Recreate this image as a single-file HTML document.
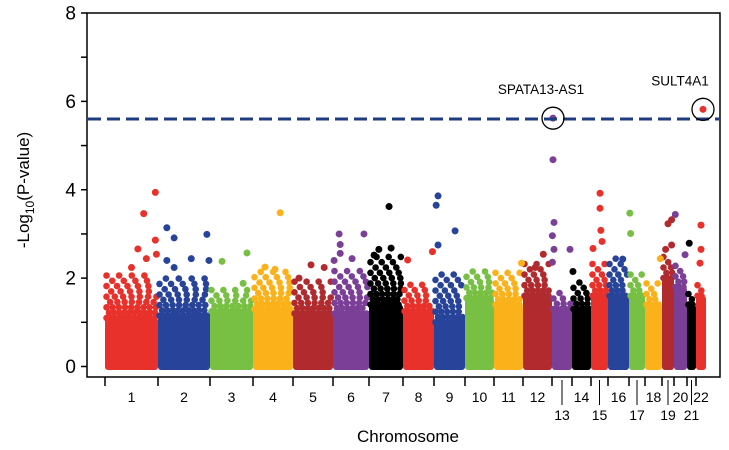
<!DOCTYPE html>
<html><head><meta charset="utf-8"><style>
body{margin:0;background:#fff;width:729px;height:450px;overflow:hidden}
svg{display:block;font-family:"Liberation Sans","DejaVu Sans",sans-serif}
</style></head><body>
<svg id="chart" width="729" height="450" viewBox="0 0 729 450" xmlns="http://www.w3.org/2000/svg"></svg>
<script>
// ---- data ----
const chromosomes = ["1","2","3","4","5","6","7","8","9","10","11","12","13","14","15","16","17","18","19","20","21","22"];
const chrSpans = [53,52,43,40,40,36,34,31,31,29,29,29,20,19,17,21,16,17,12,13,9,10];
const solidHeights = [1.1,1.15,1.25,1.3,1.2,1.2,1.4,1.25,1.0,1.55,1.4,1.6,1.3,1.3,1.6,1.6,1.6,1.4,2.0,1.8,1.4,1.6];
const fuzzyHeights = [2.1,2.0,1.8,2.2,2.0,2.2,2.6,1.95,2.2,2.2,2.2,2.4,1.7,2.0,2.4,2.5,2.2,2.0,2.6,2.4,1.8,1.9];
// notable points: [chromosome index, fraction along chromosome, -log10 p]
const topPoints = [
 [0,0.95,3.94],[0,0.73,3.46],[0,0.95,2.86],[0,0.62,2.66],[0,0.97,2.54],[0,0.78,2.44],[0,0.5,2.24],
 [1,0.17,3.14],[1,0.31,2.91],[1,0.94,2.99],[1,0.17,2.4],[1,0.64,2.44],[1,0.98,2.4],[1,0.31,2.24],
 [2,0.28,2.38],[2,0.86,2.57],[2,0.77,1.88],
 [3,0.68,3.48],[3,0.3,2.25],[3,0.55,2.2],
 [4,0.45,2.3],[4,0.78,2.24],[4,0.15,2.0],
 [5,0.17,3.0],[5,0.86,3.0],[5,0.2,2.76],[5,0.2,2.56],[5,0.03,2.4],[5,0.53,2.44],
 [6,0.59,3.62],[6,0.29,2.65],[6,0.65,2.68],[6,0.15,2.52],
 [7,0.15,2.41],[7,0.95,2.6],
 [8,0.13,3.86],[8,0.07,3.65],[8,0.68,3.07],[8,0.13,2.75],
 [10,0.95,2.34],
 [11,0.7,2.54],[11,0.42,2.24],
 [12,0.05,4.68],[12,0.1,3.26],[12,0.02,2.96],[12,0.1,2.65],[12,0.9,2.65],[12,0.02,2.36],[12,0.05,5.62],
 [13,0.05,2.15],
 [14,0.53,3.92],[14,0.53,3.58],[14,0.58,3.08],[14,0.65,2.83],[14,0.12,2.67],
 [15,0.7,2.43],
 [16,0.05,3.47],[16,0.1,3.01],
 [17,0.9,2.44],
 [18,0.5,3.23],[18,0.8,3.32],[18,0.8,2.75],[18,0.3,2.65],
 [19,0.1,3.44],[19,0.85,2.53],
 [20,0.25,2.79],
 [21,0.5,3.2],[21,0.5,2.65],[21,0.4,2.34],[21,0.7,5.82]
];
const yTicks = [0,1,2,3,4,5,6,7,8];
const yTickLabels = ["0","","2","","4","","6","","8"];
const threshold = 5.6;
const annotations = [["SPATA13-AS1",12,0.05,5.62],["SULT4A1",21,0.7,5.82]];
// ---- rendering ----
const colors = ["#e8312a","#27449a","#77c043","#fbb21a","#b02a2e","#7b3f98","#000000"];
const svg = document.getElementById('chart');
const NS = "http://www.w3.org/2000/svg";
function mk(tag, attrs, parent){const e=document.createElementNS(NS,tag);for(const k in attrs)e.setAttribute(k,attrs[k]);(parent||svg).appendChild(e);return e;}
const X0=105, X1=706, Y0=366.5, Y8=13;
const total = chrSpans.reduce((a,b)=>a+b,0);
const starts=[];let acc=0;chrSpans.forEach(l=>{starts.push(acc);acc+=l;});
function xs(u){return X0+(u/total)*(X1-X0);}
function ys(v){return Y0-(v/8)*(Y0-Y8);}
function chrX(ci,f){return xs(starts[ci]+f*chrSpans[ci]);}

const frame=mk('rect',{x:87,y:13,width:633,height:364,fill:'none',stroke:'#000','stroke-width':1.5});



const gPts=mk('g',{});


chromosomes.forEach((c,ci)=>{
  const col=colors[ci%7];
  const g=mk('g',{fill:col},gPts);
  
  
  const xa=chrX(ci,0)+1.5, xe=chrX(ci,1)-1.5;
  const body=mk('rect',{x:xa-1.5,y:ys(solidHeights[ci]),width:xe-xa+3,height:Y0+3.5-ys(solidHeights[ci]),rx:3},g);
  
  
  const h0=solidHeights[ci], h1=fuzzyHeights[ci];
  let row=0;
  for(let v=h0; v<=h1; v+=0.12,row++){
    const t=(v-h0)/Math.max(0.01,h1-h0);
    const step=4+t*9;
    for(let x=xa+(row%2)*step/2; x<=xe; x+=step){
      mk('circle',{cx:x.toFixed(1),cy:ys(v).toFixed(1),r:3.3},g);
    }
  }
});
topPoints.forEach(p=>{
  const pt=mk('circle',{cx:chrX(p[0],p[1]),cy:ys(p[2]),r:3.5,fill:colors[p[0]%7]},gPts);
  
  
});
const th=mk('line',{x1:88,x2:719,y1:ys(threshold),y2:ys(threshold),stroke:'#1f3c80','stroke-width':3,'stroke-dasharray':'13 6'});


annotations.forEach(a=>{
  const cx=chrX(a[1],a[2]), cy=ys(a[3]);
  const ring=mk('circle',{cx:cx,cy:cy,r:11,fill:'none',stroke:'#000','stroke-width':1.3});
  
  
  const t=mk('text',{x:a[0]==="SULT4A1"?cx-23:cx-12,y:cy-24,'font-size':13.5,'text-anchor':'middle',fill:'#000'});
  t.textContent=a[0];
  
  
});
yTicks.forEach((v,i)=>{
  const l=mk('line',{x1:81,x2:87,y1:ys(v),y2:ys(v),stroke:'#000','stroke-width':1.5});
  
  
  if(yTickLabels[i]){
    const t=mk('text',{x:76,y:ys(v)+6.5,'font-size':19,'text-anchor':'end'});
    t.textContent=yTickLabels[i];
    
    
  }
});
const yt=mk('text',{transform:'translate(29,190) rotate(-90)','font-size':17,'text-anchor':'middle'});
yt.innerHTML='-Log<tspan font-size="12" dy="5">10</tspan><tspan dy="-5">(P-value)</tspan>';


chromosomes.forEach((c,ci)=>{
  const x=chrX(ci,0);
  const tk=mk('line',{x1:x,x2:x,y1:377,y2:386,stroke:'#000','stroke-width':1.5});
  
  
  const mid=chrX(ci,0.5);
  const low=[12,14,16,18,20].includes(ci);
  if(low){
    const ln=mk('line',{x1:mid,x2:mid,y1:380,y2:405,stroke:'#000','stroke-width':1});
    
    
  }
  const t=mk('text',{x:mid,y:low?420:402,'font-size':14,'text-anchor':'middle'});
  t.textContent=c;
  
  
});
const xt=mk('text',{x:408,y:442,'font-size':17,'text-anchor':'middle'});
xt.textContent='Chromosome';


</script>
</body></html>
